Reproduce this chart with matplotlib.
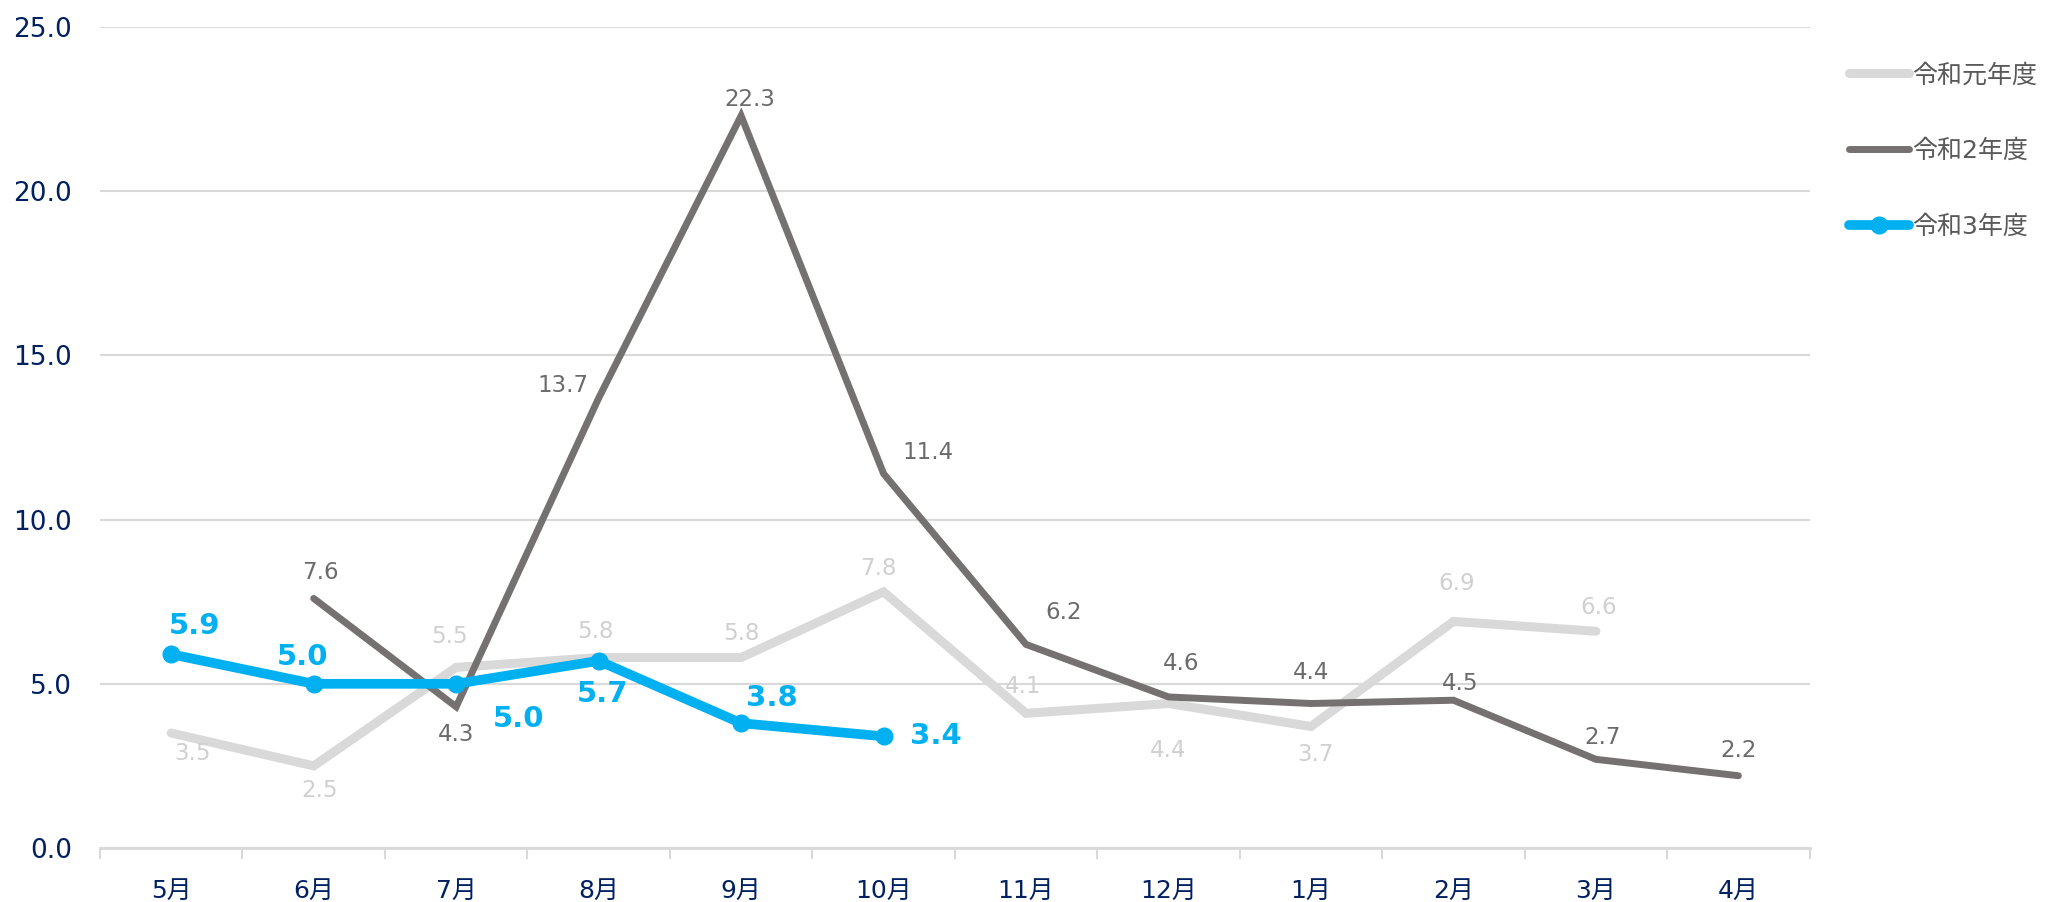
import numpy as np
import matplotlib
matplotlib.use("Agg")
import matplotlib.pyplot as plt

plt.rcParams['font.family'] = ['DejaVu Sans', 'Noto Sans CJK JP']

months = ["5月", "6月", "7月", "8月", "9月", "10月", "11月", "12月", "1月", "2月", "3月", "4月"]
nan = np.nan
r1 = [3.5, 2.5, 5.5, 5.8, 5.8, 7.8, 4.1, 4.4, 3.7, 6.9, 6.6, nan]
r2 = [nan, 7.6, 4.3, 13.7, 22.3, 11.4, 6.2, 4.6, 4.4, 4.5, 2.7, 2.2]
r3 = [5.9, 5.0, 5.0, 5.7, 3.8, 3.4]
names = ["令和元年度", "令和2年度", "令和3年度"]

# label offsets (points)
off1 = [(15, -15), (4, -18), (-5, 22), (-2, 19), (0, 17), (-4, 17), (-2, 19),
        (0, -34), (3, -20), (2, 27), (2, 17), None]
off2 = [None, (5, 19), (0, -20), (-26, 9), (6, 12), (32, 15), (27, 23),
        (9, 24), (0, 22), (5, 12), (5, 16), (0, 18)]
off3 = [(17, 20), (-8, 19), (45, -25), (3, -24), (22, 18), (38, 0)]

c1, c2, c3 = "#d9d9d9", "#767171", "#00b0f0"
navy = "#002060"

fig = plt.figure(figsize=(20.45, 9.02), dpi=100)
ax = fig.add_axes([0.0489, 0.0599, 0.836, 0.910])

x = np.arange(len(months))
ax.plot(x, r1, color=c1, lw=6.5, solid_capstyle='round', solid_joinstyle='miter', label=names[0])
ax.plot(x, r2, color=c2, lw=5, solid_capstyle='round', solid_joinstyle='miter', label=names[1])
ax.plot(x[:len(r3)], r3, color=c3, lw=7, marker='o', ms=12, solid_capstyle='round',
        solid_joinstyle='miter', label=names[2])


def labels(vals, offs, color, size, weight="normal"):
    for i, v in enumerate(vals):
        if np.isnan(v) or offs[i] is None:
            continue
        ax.annotate(f"{v:.1f}", (i, v), xytext=offs[i], textcoords="offset points",
                    ha="center", va="center", fontsize=size, color=color, weight=weight)


labels(r1, off1, "#d0d0d0", 16.5)
labels(r2, off2, "#6b6b6b", 16.5)
labels(r3, off3, c3, 21, "bold")

ax.set_xlim(-0.5, 11.5)
ax.set_ylim(0, 25)
ax.set_yticks(np.arange(0, 26, 5))
ax.set_yticklabels([f"{v:.1f}" for v in np.arange(0, 26, 5)])
ax.set_xticks(x)
ax.set_xticklabels(months)
ax.set_xticks(np.arange(-0.5, 12, 1), minor=True)
ax.tick_params(axis='x', which='major', length=0, pad=22, labelsize=18, labelcolor=navy)
ax.tick_params(axis='x', which='minor', length=8, width=1.5, color=c1)
ax.tick_params(axis='y', length=0, pad=20, labelsize=19, labelcolor=navy)
ax.grid(axis='y', color=c1, lw=1.5)
ax.set_axisbelow(True)
for s in ["left", "right", "top"]:
    ax.spines[s].set_visible(False)
ax.spines["bottom"].set_color(c1)
ax.spines["bottom"].set_linewidth(2)

leg = fig.legend(loc="upper left", bbox_to_anchor=(0.904, 0.93), frameon=False,
                 fontsize=18, labelspacing=2.08, handlelength=2.4, handletextpad=0.15,
                 borderpad=0, borderaxespad=0)
for t in leg.get_texts():
    t.set_color("#595959")

fig.savefig("out.png", dpi=100)
